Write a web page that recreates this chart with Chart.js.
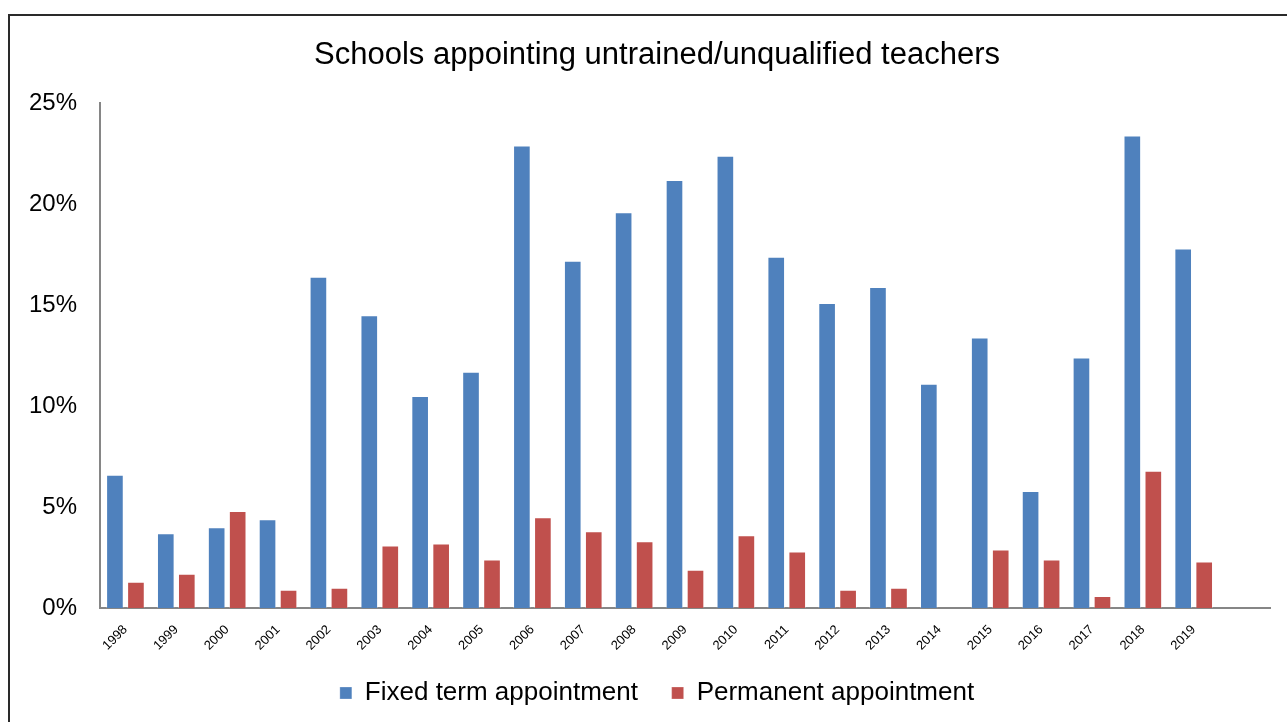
<!DOCTYPE html>
<html>
<head>
<meta charset="utf-8">
<title>Schools appointing untrained/unqualified teachers</title>
<script src="https://cdn.jsdelivr.net/npm/chart.js@4"></script>
<style>
  html, body { margin: 0; padding: 0; background: #fff; overflow: hidden; }
  #wrap { position: relative; width: 1287px; height: 722px; overflow: hidden; }
  #frame {
    position: absolute; left: 8px; top: 14px; width: 1400px; height: 800px;
    border-left: 2px solid #2a2a2a; border-top: 2px solid #2a2a2a;
  }
  #chart { position: absolute; left: 0; top: 0; }
</style>
</head>
<body>
<div id="wrap">
  <div id="frame"></div>
  <canvas id="chart" width="1294" height="722"></canvas>
</div>
<script>
// Data (percent of schools)
const years = ['1998', '1999', '2000', '2001', '2002', '2003', '2004', '2005', '2006', '2007', '2008',
  '2009', '2010', '2011', '2012', '2013', '2014', '2015', '2016', '2017', '2018', '2019', ''];
const fixedTerm = [6.6, 3.7, 4.0, 4.4, 16.4, 14.5, 10.5, 11.7, 22.9, 17.2, 19.6,
  21.2, 22.4, 17.4, 15.1, 15.9, 11.1, 13.4, 5.8, 12.4, 23.4, 17.8, null];
const permanent = [1.3, 1.7, 4.8, 0.9, 1.0, 3.1, 3.2, 2.4, 4.5, 3.8, 3.3,
  1.9, 3.6, 2.8, 0.9, 1.0, 0, 2.9, 2.4, 0.6, 6.8, 2.3, null];
const yTicks = [0, 5, 10, 15, 20, 25];

const FONT = "'Liberation Sans', Arial, sans-serif";
Chart.defaults.font.family = FONT;
Chart.defaults.color = '#000';

const axisColor = '#868686';

new Chart(document.getElementById('chart'), {
  type: 'bar',
  data: {
    labels: years,
    datasets: [{
      label: 'Fixed term appointment',
      data: fixedTerm,
      backgroundColor: '#4F81BD',
      borderColor: 'rgba(255, 255, 255, 0.25)',
      borderWidth: 1
    }, {
      label: 'Permanent appointment',
      data: permanent,
      backgroundColor: '#C0504D',
      borderColor: 'rgba(255, 255, 255, 0.25)',
      borderWidth: 1
    }]
  },
  options: {
    responsive: false,
    animation: false,
    devicePixelRatio: 1,
    categoryPercentage: 0.826,
    barPercentage: 0.84,
    layout: {
      padding: { left: 20, right: 0, top: 0, bottom: 6 }
    },
    plugins: {
      title: {
        display: true,
        text: 'Schools appointing untrained/unqualified teachers',
        color: '#000',
        font: { size: 31, weight: 'normal', family: FONT, lineHeight: 1.2 },
        padding: { top: 37, bottom: 29 }
      },
      legend: {
        position: 'bottom',
        labels: {
          color: '#000',
          font: { size: 26, family: FONT },
          boxWidth: 12,
          boxHeight: 12,
          padding: 12,
          // widen the gap after the first entry without inflating the legend height
          generateLabels: (chart) => {
            const items = Chart.defaults.plugins.legend.labels.generateLabels(chart);
            if (items.length) items[0].text += '   ';
            return items;
          }
        }
      },
      tooltip: { enabled: false }
    },
    scales: {
      x: {
        grid: { display: false, drawTicks: false },
        border: { display: true, color: axisColor, width: 2 },
        ticks: {
          color: '#000',
          font: { size: 13, family: FONT },
          minRotation: 45,
          maxRotation: 45,
          autoSkip: false,
          padding: 14
        },
        afterFit: (axis) => { axis.height = 60; }
      },
      y: {
        min: 0,
        max: 25,
        grid: { display: false, drawTicks: false },
        border: { display: true, color: axisColor, width: 2 },
        afterBuildTicks: (axis) => { axis.ticks = yTicks.map(v => ({ value: v })); },
        ticks: {
          color: '#000',
          font: { size: 24, family: FONT },
          padding: 23,
          callback: (v) => v + '%'
        },
        afterFit: (axis) => { axis.width = 80; }
      },
      // empty right-hand spacer so the title and legend centre like the original
      spacer: {
        position: 'right',
        display: true,
        grid: { display: false },
        border: { display: false },
        ticks: { display: false },
        afterFit: (axis) => { axis.width = 24; }
      }
    }
  }
});
</script>
</body>
</html>
